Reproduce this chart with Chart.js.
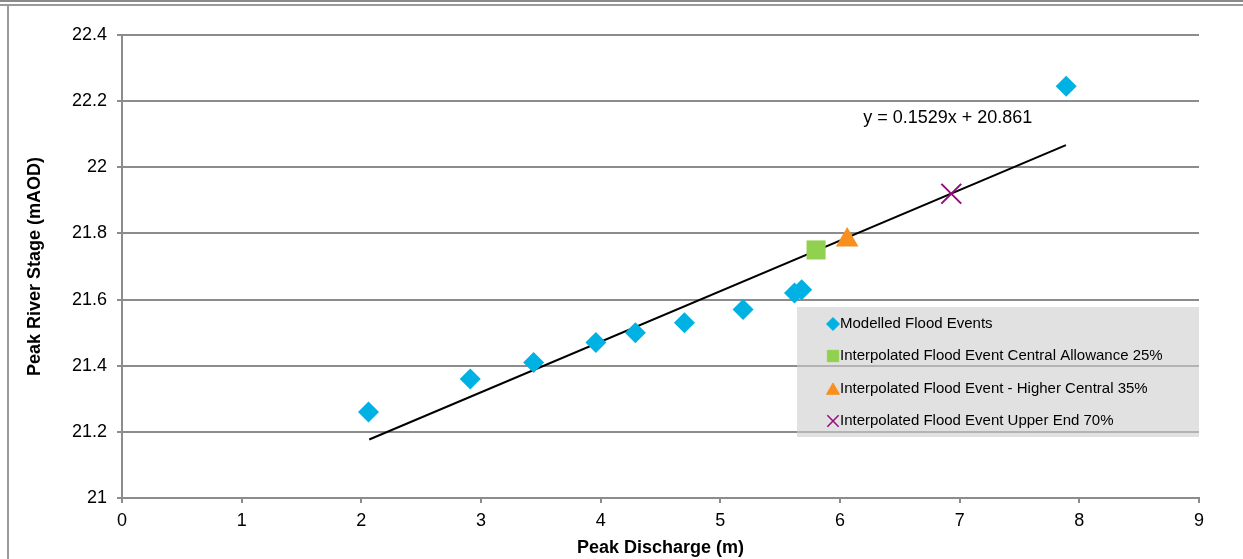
<!DOCTYPE html>
<html>
<head>
<meta charset="utf-8">
<script src="https://cdn.jsdelivr.net/npm/chart.js@4/dist/chart.umd.min.js"></script>
<style>
  html, body { margin: 0; padding: 0; background: #fff; }
  #wrap { position: relative; width: 1243px; height: 559px; overflow: hidden; }
  .rule { position: absolute; background: #8a8a8a; }
  canvas { position: absolute; left: 0; top: 0; }
</style>
</head>
<body>
<div id="wrap">
  <div class="rule" style="left:0;top:0;width:1243px;height:2px;"></div>
  <div class="rule" style="left:0;top:4px;width:1243px;height:2px;background:#9a9a9a;"></div>
  <div class="rule" style="left:7px;top:6px;width:2px;height:553px;background:#9a9a9a;"></div>
  <canvas id="floodChart" width="1243" height="559"></canvas>
</div>
<script>
// modelled events
const modelledDischarge = [2.06, 2.91, 3.44, 3.96, 4.29, 4.70, 5.19, 5.62, 5.68, 7.89];
const modelledStage = [21.26, 21.36, 21.41, 21.47, 21.50, 21.53, 21.57, 21.62, 21.63, 22.245];

// interpolated climate change events
const centralDischarge = [5.80];
const centralStage = [21.75];
const higherDischarge = [6.06];
const higherStage = [21.78];
const upperDischarge = [6.93];
const upperStage = [21.92];

// trend line end points
const trendDischarge = [2.066, 7.888];
const trendStage = [21.177, 22.067];
const trendLabel = "y = 0.1529x + 20.861";
const trendLabelAt = [6.9, 22.15];

const seriesNames = [
    "Modelled Flood Events",
    "Interpolated Flood Event Central Allowance 25%",
    "Interpolated Flood Event - Higher Central 35%",
    "Interpolated Flood Event Upper End 70%"
];

const xTickLabels = ["0", "1", "2", "3", "4", "5", "6", "7", "8", "9"];
const yTickLabels = ["21", "21.2", "21.4", "21.6", "21.8", "22", "22.2", "22.4"];

const fontFamily = "'Liberation Sans', Arial, sans-serif";
const gridGrey = "#8c8c8c";

function toPoints(xs, ys) {
    return xs.map((x, i) => ({ x: x, y: ys[i] }));
}

// equation text next to the trend line
const equationPlugin = {
    id: "equation",
    afterDatasetsDraw(chart) {
        const ctx = chart.ctx;
        const x = chart.scales.x.getPixelForValue(trendLabelAt[0]);
        const y = chart.scales.y.getPixelForValue(trendLabelAt[1]);
        ctx.save();
        ctx.font = "18px " + fontFamily;
        ctx.fillStyle = "#000";
        ctx.textAlign = "center";
        ctx.textBaseline = "middle";
        ctx.fillText(trendLabel, x, y);
        ctx.restore();
    }
};

// grey legend box inside the plot, like the Excel one
const boxLegendPlugin = {
    id: "boxLegend",
    afterDatasetsDraw(chart) {
        const ctx = chart.ctx;
        const area = chart.chartArea;
        const right = area.right;
        const left = 797;
        const top = 307;
        const bottom = 437;
        ctx.save();
        ctx.fillStyle = "rgba(205, 205, 205, 0.6)";
        ctx.fillRect(left, top, right - left, bottom - top);

        const rowY = [324, 356, 389, 421];
        const sizes = [6.5, 8, 7.5, 8];
        ctx.font = "15px " + fontFamily;
        ctx.textBaseline = "middle";
        ctx.textAlign = "left";
        for (let i = 0; i < 4; i++) {
            const ds = chart.data.datasets[i];
            ctx.fillStyle = ds.backgroundColor;
            ctx.strokeStyle = ds.borderColor;
            ctx.lineWidth = ds.pointStyle === "crossRot" ? 1.5 : 0;
            Chart.helpers.drawPoint(ctx, {
                pointStyle: ds.pointStyle,
                radius: sizes[i],
                borderWidth: ctx.lineWidth,
                rotation: 0
            }, 833, rowY[i] + (ds.pointStyle === "triangle" ? 1.5 : 0));
            ctx.fillStyle = "#000";
            ctx.fillText(ds.label, 840, rowY[i]);
        }
        ctx.restore();
    }
};

const ctx = document.getElementById("floodChart").getContext("2d");

new Chart(ctx, {
    type: "scatter",
    data: {
        datasets: [
            {
                label: seriesNames[0],
                data: toPoints(modelledDischarge, modelledStage),
                pointStyle: "rectRot",
                pointRadius: 10.5,
                pointHoverRadius: 10.5,
                backgroundColor: "#00b2e3",
                borderColor: "#00b2e3",
                borderWidth: 0
            },
            {
                label: seriesNames[1],
                data: toPoints(centralDischarge, centralStage),
                pointStyle: "rect",
                pointRadius: 13.5,
                pointHoverRadius: 13.5,
                backgroundColor: "#92d050",
                borderColor: "#92d050",
                borderWidth: 0
            },
            {
                label: seriesNames[2],
                data: toPoints(higherDischarge, higherStage),
                pointStyle: "triangle",
                pointRadius: 13,
                pointHoverRadius: 13,
                backgroundColor: "#f7901e",
                borderColor: "#f7901e",
                borderWidth: 0
            },
            {
                label: seriesNames[3],
                data: toPoints(upperDischarge, upperStage),
                pointStyle: "crossRot",
                pointRadius: 14,
                pointHoverRadius: 14,
                backgroundColor: "#990a7c",
                borderColor: "#990a7c",
                borderWidth: 2
            },
            {
                type: "line",
                label: "Linear trend",
                data: toPoints(trendDischarge, trendStage),
                borderColor: "#000",
                borderWidth: 2,
                pointRadius: 0,
                showLine: true,
                fill: false
            }
        ]
    },
    options: {
        responsive: false,
        animation: false,
        layout: { padding: { top: 35, right: 44, left: 0, bottom: 0 } },
        plugins: {
            legend: { display: false },
            tooltip: { enabled: false }
        },
        scales: {
            x: {
                type: "linear",
                min: 0,
                max: 9,
                afterFit: (scale) => { scale.height = 61; },
                ticks: {
                    stepSize: 1,
                    padding: 7,
                    color: "#000",
                    font: { family: fontFamily, size: 18 },
                    maxRotation: 0,
                    callback: (value, i) => xTickLabels[i]
                },
                grid: { drawOnChartArea: false, drawTicks: true, tickLength: 5, color: gridGrey, lineWidth: 2 },
                border: { color: gridGrey, width: 2 },
                title: {
                    display: true,
                    text: "Peak Discharge (m)",
                    color: "#000",
                    font: { family: fontFamily, size: 18, weight: "bold" },
                    padding: { top: 2, bottom: 0 }
                }
            },
            y: {
                min: 21,
                max: 22.4,
                afterFit: (scale) => { scale.width = 122; },
                ticks: {
                    stepSize: 0.2,
                    padding: 10,
                    color: "#000",
                    font: { family: fontFamily, size: 18 },
                    callback: (value, i) => yTickLabels[i]
                },
                grid: { color: gridGrey, lineWidth: 2, tickLength: 5 },
                border: { color: gridGrey, width: 2 },
                title: {
                    display: true,
                    text: "Peak River Stage (mAOD)",
                    color: "#000",
                    font: { family: fontFamily, size: 18, weight: "bold" },
                    padding: { top: 24, bottom: 0 }
                }
            }
        }
    },
    plugins: [equationPlugin, boxLegendPlugin]
});
</script>
</body>
</html>
